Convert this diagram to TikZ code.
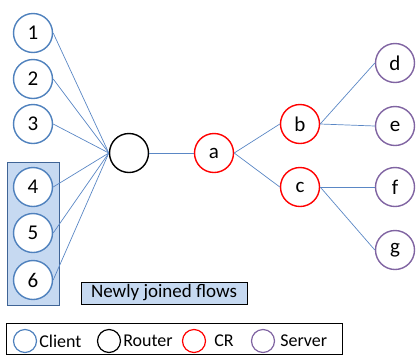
\documentclass[tikz,border=0pt]{standalone}
\usepackage{fontspec}
\setmainfont{Carlito}
\usepackage{tikz}
\usetikzlibrary{positioning}

\definecolor{clientblue}{HTML}{4F81BD}
\definecolor{linkblue}{HTML}{5A87C5}
\definecolor{boxblue}{HTML}{C6D9F1}
\definecolor{boxedge}{HTML}{3F6496}
\definecolor{serverpurple}{HTML}{8064A2}

\begin{document}
\begin{tikzpicture}[
  x=1pt, y=-1pt,
  node distance = 4pt,
  base/.style    = {circle, fill=white, line width=1.4pt,
                    minimum size=39pt, inner sep=0pt, font=\fontsize{21}{21}\selectfont},
  client/.style  = {base, draw=clientblue},
  router/.style  = {base, draw=black},
  cr/.style      = {base, draw=red},
  server/.style  = {base, draw=serverpurple},
  key/.style     = {circle, line width=1.2pt, minimum size=23pt, inner sep=0pt},
  keytext/.style = {font=\fontsize{18}{18}\selectfont, inner sep=0pt},
  link/.style    = {draw=linkblue, line width=0.7pt},
]
\useasboundingbox (0,0) rectangle (417,354);

% newly joined group
\draw[fill=boxblue, draw=boxedge, line width=1pt] (7,162) rectangle (59,305);

% clients
\node[client] (c1) at (33,33)  {1};
\node[client] (c2) at (33,79)  {2};
\node[client] (c3) at (33,124) {3};
\node[client] (c4) at (33,187) {4};
\node[client] (c5) at (33,233) {5};
\node[client] (c6) at (33,280) {6};

\node[router] (rt) at (129,153) {};
\node[cr] (a) at (214,153) {a};
\node[cr] (b) at (300,124) {b};
\node[cr] (c) at (300,187) {c};
\node[server] (d) at (395,63)  {d};
\node[server] (e) at (395,126) {e};
\node[server] (f) at (395,187) {f};
\node[server] (g) at (395,250) {g};

\draw[link] (c1.east) -- (rt.west);
\draw[link] (c2.east) -- (rt.west);
\draw[link] (c3.east) -- (rt.west);
\draw[link] (c4.east) -- (rt.west);
\draw[link] (c5.east) -- (rt.west);
\draw[link] (c6.east) -- (rt.west);
\draw[link] (rt.east) -- (a.west);
\draw[link] (a.east)  -- (b.west);
\draw[link] (a.east)  -- (c.west);
\draw[link] (b.east)  -- (d.west);
\draw[link] (b.east)  -- (e.west);
\draw[link] (c.east)  -- (f.west);
\draw[link] (c.east)  -- (g.west);

\node[draw=black, fill=boxblue, line width=1pt, minimum width=166pt,
      minimum height=22pt, inner sep=0pt, font=\fontsize{19}{19}\selectfont]
      (newly) at (164,293) {Newly joined flows};

% legend
\draw[line width=1pt] (6,323) rectangle (342,354);
\node[key, draw=clientblue] (kcl) at (25,341) {};
\node[keytext, right=2pt of kcl] (tcl) {Client};
\node[key, draw=black] (krt) at (109,341) {};
\node[keytext, right=2pt of krt] (trt) {Router};
\node[key, draw=red] (kcr) at (194,341) {};
\node[keytext, right=8pt of kcr] (tcr) {CR};
\node[key, draw=serverpurple] (ksv) at (263,341) {};
\node[keytext, right=5pt of ksv] (tsv) {Server};
\end{tikzpicture}
\end{document}
